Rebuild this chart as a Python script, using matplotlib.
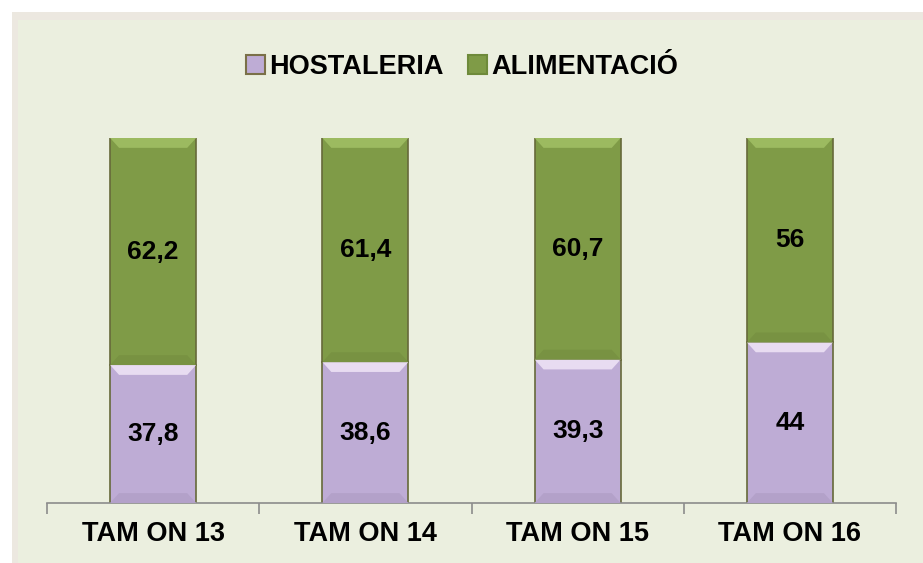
import numpy as np
import matplotlib
matplotlib.use('Agg')
import matplotlib.pyplot as plt
from matplotlib.patches import Rectangle, Polygon, Patch

# ==========================================
# data
# ==========================================
categories = ['TAM ON 13', 'TAM ON 14', 'TAM ON 15', 'TAM ON 16']
hostaleria = [37.8, 38.6, 39.3, 44]
alimentacio = [62.2, 61.4, 60.7, 56]
labels_host = ['37,8', '38,6', '39,3', '44']
labels_alim = ['62,2', '61,4', '60,7', '56']
series_names = ['HOSTALERIA', 'ALIMENTACIÓ']

PURPLE = '#BEACD5'
GREEN = '#7F9B47'
EDGE = '#66693A'
BG = '#EBEFDF'
BAR_W = 0.405
FS = 19

plt.rcParams['font.family'] = ['Liberation Sans', 'DejaVu Sans']

fig = plt.figure(figsize=(9.23, 5.63), dpi=100)
fig.patch.set_facecolor('white')

# chart area + soft shadow
fig.patches.append(Rectangle((12 / 923, 0), 1, 1 - 12 / 563, transform=fig.transFigure,
                             facecolor='#ECE8E0', edgecolor='none', zorder=-3))
fig.patches.append(Rectangle((18 / 923, 0), 1, 1 - 20 / 563, transform=fig.transFigure,
                             facecolor=BG, edgecolor='none', zorder=-2))

ax = fig.add_axes([47 / 923, 60 / 563, 849 / 923, 365 / 563])
ax.set_facecolor('none')

x = np.arange(len(categories))


def bevel(ax, bar, light, dark):
    # light strip on top, darker strip at the bottom
    x0, y0 = bar.get_x(), bar.get_y()
    w, h = bar.get_width(), bar.get_height()
    dx, dy = 0.042, 2.7
    top = Polygon([(x0, y0 + h), (x0 + w, y0 + h), (x0 + w - dx, y0 + h - dy), (x0 + dx, y0 + h - dy)],
                  closed=True, facecolor=light, edgecolor='none', zorder=3)
    bot = Polygon([(x0, y0), (x0 + w, y0), (x0 + w - dx, y0 + dy), (x0 + dx, y0 + dy)],
                  closed=True, facecolor=dark, edgecolor='none', zorder=3)
    ax.add_patch(top)
    ax.add_patch(bot)


bars1 = ax.bar(x, hostaleria, BAR_W, color=PURPLE, edgecolor=EDGE, linewidth=1.2, zorder=2)
bars2 = ax.bar(x, alimentacio, BAR_W, bottom=hostaleria, color=GREEN, edgecolor=EDGE,
               linewidth=1.2, zorder=2)

for b in bars1:
    bevel(ax, b, '#E8DCF1', '#B3A1C9')
for b in bars2:
    bevel(ax, b, '#9CBA60', '#789242')

for i in range(len(categories)):
    ax.text(x[i], hostaleria[i] / 2, labels_host[i], ha='center', va='center',
            fontsize=FS, fontweight='bold', color='black', zorder=5)
    ax.text(x[i], hostaleria[i] + alimentacio[i] / 2, labels_alim[i], ha='center', va='center',
            fontsize=FS, fontweight='bold', color='black', zorder=5)

ax.set_xlim(-0.5, len(categories) - 0.5)
ax.set_ylim(0, 100)
ax.set_yticks([])
for s in ['top', 'right', 'left']:
    ax.spines[s].set_visible(False)
ax.spines['bottom'].set_color('#8C8C8C')
ax.spines['bottom'].set_linewidth(1.2)

ax.set_xticks(x)
ax.set_xticklabels(categories, fontsize=FS + 0.5, fontweight='bold')
ax.tick_params(axis='x', length=0, pad=13)
ax.set_xticks(np.arange(len(categories) + 1) - 0.5, minor=True)
ax.tick_params(axis='x', which='minor', length=8, color='#8C8C8C', width=1.2)

handles = [Patch(facecolor=PURPLE, edgecolor='#7A7048', linewidth=1.5),
           Patch(facecolor=GREEN, edgecolor='#6E8A3A', linewidth=1.5)]
fig.legend(handles, series_names, loc='center', bbox_to_anchor=(462 / 923, 1 - 67 / 563),
           ncol=2, frameon=False, prop={'weight': 'bold', 'size': FS + 0.5},
           handlelength=0.7, handleheight=0.7, handletextpad=0.15, columnspacing=0.9)

plt.savefig('out.png', dpi=100, facecolor=fig.get_facecolor())
